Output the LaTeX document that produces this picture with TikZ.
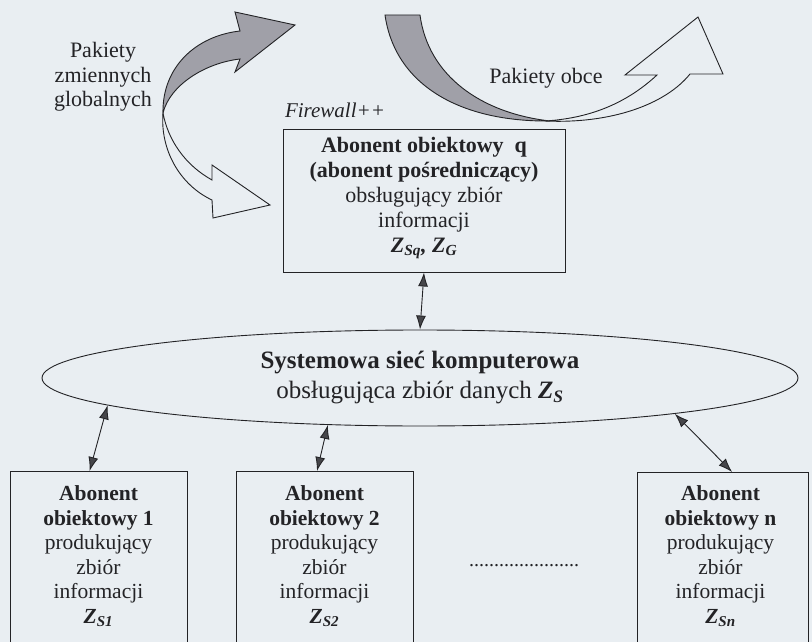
\documentclass[tikz,border=0pt]{standalone}
\usepackage{fontspec}
\setmainfont{Liberation Serif}
\usetikzlibrary{arrows.meta,shapes.geometric,calc}
\definecolor{bg}{RGB}{233,238,242}
\definecolor{ink}{RGB}{35,35,38}
\definecolor{ribbon}{RGB}{160,160,168}
\definecolor{tipc}{RGB}{70,70,74}
\begin{document}
\begin{tikzpicture}[x=1pt,y=-1pt,
  every node/.style={text=ink},
  box/.style={draw=ink,line width=0.9pt,inner sep=0pt},
  qtxt/.style={font=\fontsize{22}{25}\selectfont,align=center,inner sep=0pt},
  btxt/.style={font=\fontsize{21.5}{24.5}\selectfont,align=center,inner sep=0pt},
  lbl/.style={font=\fontsize{22}{24.5}\selectfont,align=center,inner sep=0pt},
  dbl/.style={draw=ink,line width=0.9pt,
    {Latex[length=14pt,width=10pt,fill=tipc]}-{Latex[length=14pt,width=10pt,fill=tipc]}},
  rib/.style={draw=ink,line width=0.9pt,line join=miter}
]
\useasboundingbox (0,0) rectangle (812,642);
\fill[bg] (0,0) rectangle (812,642);
\clip (0,0) rectangle (812,642);

% left ribbon arrow: grey upper part
\path[rib,fill=ribbon] (163,113) .. controls (162,68) and (195,36) .. (240,31)
  -- (235,12) -- (295,25) -- (235,72) -- (240,59)
  .. controls (205,63) and (170,85) .. (163,113) -- cycle;
% left ribbon arrow: white lower part
\path[rib,fill=bg] (163,113) .. controls (160,150) and (180,185) .. (212,200)
  -- (213,218) -- (270,205) -- (212,165) -- (212,180)
  .. controls (185,165) and (168,140) .. (163,113) -- cycle;

% right ribbon arrow: grey part
\path[rib,fill=ribbon] (385,15) -- (420,15)
  .. controls (428,75) and (480,113) .. (550,121)
  .. controls (460,122) and (395,85) .. (385,15) -- cycle;
% right ribbon arrow: white part
\path[rib,fill=bg] (545,121) .. controls (610,124) and (665,105) .. (690,74)
  -- (723,74) -- (698,17) -- (625,75) -- (657,75)
  .. controls (630,100) and (595,118) .. (545,121) -- cycle;

% labels
\node[lbl] (glob) at (103,77) {Pakiety\\zmiennych\\globalnych};
\node[lbl] (obce) at (546,78) {Pakiety obce};
\node[font=\fontsize{21}{24}\selectfont\itshape,inner sep=0pt] (fw) at (335,110) {Firewall++};

% intermediary box
\node[box,minimum width=282pt,minimum height=143pt] (q) at (424,200.5) {};
\node[qtxt] (qt) at (424,198) {\textbf{Abonent obiektowy\ \ q}\\
  \textbf{(abonent pośredniczący)}\\ obsługujący zbiór\\ informacji\\
  \textbf{\textit{Z\textsubscript{Sq}, Z\textsubscript{G}}}};

% network ellipse
\node[draw=ink,line width=0.9pt,ellipse,minimum width=756pt,minimum height=96pt,
  inner sep=0pt,align=center,font=\fontsize{25}{30}\selectfont] (net) at (420,378)
  {\textbf{Systemowa sieć komputerowa}\\
   obsługująca zbiór danych \textbf{\textit{Z\textsubscript{S}}}};

% bottom boxes
\node[box,anchor=north,minimum width=177pt,minimum height=200pt] (b1) at (98.5,471) {};
\node[box,anchor=north,minimum width=177pt,minimum height=200pt] (b2) at (324.5,471) {};
\node[box,anchor=north,minimum width=171pt,minimum height=200pt] (bn) at (722.5,472) {};

\node[btxt] (t1) at ($(b1.north)+(0,85)$) {\textbf{Abonent}\\ \textbf{obiektowy 1}\\
  produkujący\\ zbiór\\ informacji\\ \textbf{\textit{Z\textsubscript{S1}}}};
\node[btxt] (t2) at ($(b2.north)+(0,85)$) {\textbf{Abonent}\\ \textbf{obiektowy 2}\\
  produkujący\\ zbiór\\ informacji\\ \textbf{\textit{Z\textsubscript{S2}}}};
\node[btxt] (tn) at ($(bn.north)+(-2,84)$) {\textbf{Abonent}\\ \textbf{obiektowy n}\\
  produkujący\\ zbiór\\ informacji\\ \textbf{\textit{Z\textsubscript{Sn}}}};

\node[font=\fontsize{20}{24}\selectfont,inner sep=0pt] (dots) at (524,566)
  {......................};

% connectors
\draw[dbl] (q.south) -- (net.north);
\draw[dbl] ($(b1.north west)!0.45!(b1.north east)$) -- (net.185.65);
\draw[dbl] ($(b2.north west)!0.458!(b2.north east)$) -- (net.207.4);
\draw[dbl] ($(bn.north west)!0.556!(bn.north east)$) -- (net.352.7);
\end{tikzpicture}
\end{document}
